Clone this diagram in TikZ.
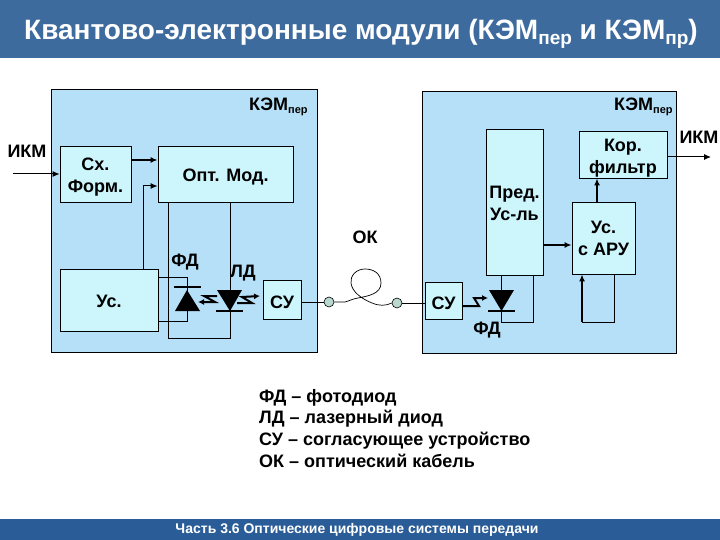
\documentclass[tikz,border=0pt]{standalone}
\usepackage{fontspec}
\setmainfont{Liberation Sans}
\usetikzlibrary{arrows.meta,calc}
\definecolor{titlebar}{HTML}{3D6B9E}
\definecolor{footbar}{HTML}{2A5C98}
\definecolor{panelblue}{HTML}{B6E0F8}
\definecolor{boxblue}{HTML}{CCF6FC}
\definecolor{jointc}{HTML}{B8D8D0}
\tikzset{
  x=1pt,y=-1pt,
  panel/.style={draw=black,line width=0.8pt,fill=panelblue,anchor=north west,inner sep=0pt},
  blk/.style={draw=black,line width=0.8pt,fill=boxblue,anchor=center,inner sep=0pt,align=center,font=\fontsize{18}{22}\selectfont\bfseries},
  lab/.style={inner sep=0pt,font=\fontsize{18}{22}\selectfont\bfseries},
  wire/.style={line width=0.8pt},
  arr/.style={line width=1pt,-{Latex[length=7pt,width=6pt]}},
  thickarr/.style={line width=1.8pt,-{Latex[length=7pt,width=6pt]}},
  zig/.style={line width=2pt,-{Latex[length=6pt,width=6pt]}},
  joint/.style={circle,draw=black,line width=0.6pt,fill=jointc,minimum size=10pt,inner sep=0pt},
}
\newcommand{\blkat}[6]{% name, x1,y1,x2,y2, text
  \node[blk,minimum width=#4pt-#2pt,minimum height=#5pt-#3pt] (#1) at ({(#2+#4)/2},{(#3+#5)/2}) {#6};}
\newcommand{\lowsub}[3]{\raisebox{#1}{\fontsize{#2}{#2}\selectfont #3}}
\newcommand{\tallline}[1]{\rule{0pt}{#1pt}}
\begin{document}
\begin{tikzpicture}
\useasboundingbox (0,0) rectangle (720,540);
\fill[white] (0,0) rectangle (720,540);
% bars
\fill[titlebar] (0,0) rectangle (720,58);
\fill[footbar] (0,519) rectangle (720,540);
\node[inner sep=0pt,text=white,font=\fontsize{28}{32}\selectfont\bfseries] (title) at (361,34)
  {Квантово-электронные модули (КЭМ\lowsub{-5pt}{19}{пер} и КЭМ\lowsub{-5pt}{19}{пр})};
\node[inner sep=0pt,text=white,font=\fontsize{14}{16}\selectfont\bfseries] (foot) at (357,530) {Часть 3.6 Оптические цифровые системы передачи};
% panels
\node[panel,minimum width=266pt,minimum height=263pt] (pl) at (51,89) {};
\node[panel,minimum width=254pt,minimum height=262pt] (pr) at (422,91) {};
% left blocks
\blkat{sx}{60}{146}{131}{202}{\tallline{18}Сх.\\Форм.}
\blkat{opt}{158}{146}{293}{202}{\tallline{19}Опт. Мод.}
\blkat{us}{60}{269}{158}{331}{\tallline{15}Ус.}
\blkat{su}{263}{280}{301}{319}{\tallline{19}СУ}
% right blocks
\blkat{sur}{425}{282}{462}{319}{\tallline{19}СУ}
\blkat{pre}{486}{129}{543}{275}{\tallline{15}Пред.\\Ус-ль}
\blkat{kor}{579}{131}{667}{178}{\tallline{19}Кор.\\фильтр}
\blkat{aru}{572}{202}{635}{274}{\tallline{14}Ус.\\с АРУ}
% free ends and diodes
\coordinate (inL) at (13,174);
\coordinate (outR) at (711,157);
\coordinate (fd) at (187,300);
\coordinate (ld) at (230,300);
\coordinate (fdr) at (501.5,300);
\node[joint] (j1) at (329,302) {};
\node[joint] (j2) at (397,303) {};
% left wiring
\draw[arr] (inL) -- (sx.west |- inL);
\draw[thickarr] (132,160) -- (opt.west |- 0,160);
\draw[arr] (us.north west -| 143,0) -- (143,186) -- (opt.west |- 0,186);
\draw[wire] (opt.south west -| 168,0) -- (168,338) -| (opt.south -| ld);
\draw[wire] (us.east |- 0,277) -| (fd);
\draw[wire] (us.east |- 0,321) -| (fd);
% FD left
\fill (187,290) -- (200,311) -- (175,311) -- cycle;
\draw[line width=1.5pt] (174,287) -- (201,287);
% LD
\fill (217,290) -- (242,290) -- (230,311) -- cycle;
\draw[line width=1.5pt] (216,311) -- (243,311);
\draw[zig] (217,296) -- (204,296) -- (215,302) -- (198,302);
\draw[zig] (237,303) -- (252,303) -- (242,297) -- (260,296);
\draw[wire] (su.east |- j1) -- (j1);
% fibre
\draw[line width=0.7pt] (j1.east) -- (345,302) .. controls (349,301) and (352,299) .. (358,298)
  .. controls (368,296) and (381,294) .. (381,283)
  .. controls (381,273) and (373,269) .. (365,269)
  .. controls (356,269) and (350,276) .. (351,283)
  .. controls (352,292) and (362,299) .. (372,303)
  .. controls (379,306) and (386,306) .. (j2.west);
\draw[wire] (j2) -- (sur.west |- j2);
% right wiring
\draw[wire] (pre.south -| fdr) -- (fdr);
\draw[wire] (fdr) -- (501.5,322) -- (533,322) -- (pre.south -| 533,0);
\fill (489,290) -- (514,290) -- (501.5,311) -- cycle;
\draw[line width=1.5pt] (488,311) -- (515,311);
\draw[zig] (sur.east |- 0,306) -- (479,306) -- (474,298) -- (488,298);
\draw[thickarr] (pre.east |- 0,245) -- (aru.west |- 0,245);
\draw[thickarr] (aru.north -| 597,0) -- (kor.south -| 597,0);
\draw[arr] (kor.east |- outR) -- (outR);
\draw[wire] (aru.south -| 614,0) -- (614,322) -- (582,322);
\draw[thickarr] (582,322) -- (aru.south -| 582,0);
% labels
\node[lab] (ikl) at (27,151) {ИКМ};
\node[lab] (ikr) at (699,137) {ИКМ};
\node[lab,anchor=base west] (kl) at (249,111) {КЭМ\lowsub{-3pt}{11}{пер}};
\node[lab,anchor=base west] (kr) at (614,111) {КЭМ\lowsub{-3pt}{11}{пер}};
\node[lab] (ok) at (365,237) {ОК};
\node[lab] (fdl) at (185,262) {ФД};
\node[lab] (ldl) at (243,273) {ЛД};
\node[lab] (fdrl) at (487,330) {ФД};
\node[lab,anchor=north west,align=left,font=\fontsize{18}{21.6}\selectfont\bfseries] (leg) at (259,389)
  {ФД – фотодиод\\ЛД – лазерный диод\\СУ – согласующее устройство\\ОК – оптический кабель};
\end{tikzpicture}
\end{document}
